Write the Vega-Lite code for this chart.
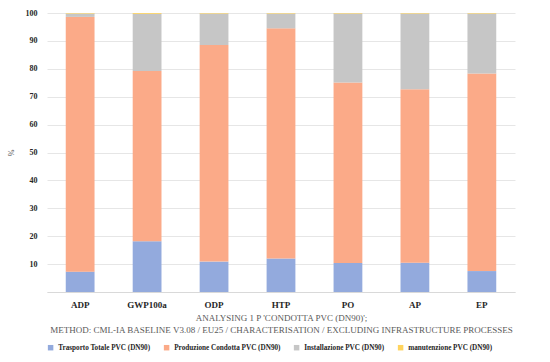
{
  "$schema": "https://vega.github.io/schema/vega-lite/v6.json",
  "width": 468,
  "height": 279,
  "padding": {"left": 7, "top": 9, "right": 20, "bottom": 5},
  "background": "white",
  "data": {"values": [
    {"cat": "ADP", "s": "Trasporto Totale PVC (DN90)", "o": 1, "v": 7.3},
    {"cat": "ADP", "s": "Produzione Condotta PVC (DN90)", "o": 2, "v": 91.3},
    {"cat": "ADP", "s": "Installazione PVC (DN90)", "o": 3, "v": 1.2},
    {"cat": "ADP", "s": "manutenzione PVC (DN90)", "o": 4, "v": 0.2},
    {"cat": "GWP100a", "s": "Trasporto Totale PVC (DN90)", "o": 1, "v": 18.2},
    {"cat": "GWP100a", "s": "Produzione Condotta PVC (DN90)", "o": 2, "v": 61.0},
    {"cat": "GWP100a", "s": "Installazione PVC (DN90)", "o": 3, "v": 20.5},
    {"cat": "GWP100a", "s": "manutenzione PVC (DN90)", "o": 4, "v": 0.3},
    {"cat": "ODP", "s": "Trasporto Totale PVC (DN90)", "o": 1, "v": 10.9},
    {"cat": "ODP", "s": "Produzione Condotta PVC (DN90)", "o": 2, "v": 77.6},
    {"cat": "ODP", "s": "Installazione PVC (DN90)", "o": 3, "v": 11.3},
    {"cat": "ODP", "s": "manutenzione PVC (DN90)", "o": 4, "v": 0.2},
    {"cat": "HTP", "s": "Trasporto Totale PVC (DN90)", "o": 1, "v": 12.0},
    {"cat": "HTP", "s": "Produzione Condotta PVC (DN90)", "o": 2, "v": 82.5},
    {"cat": "HTP", "s": "Installazione PVC (DN90)", "o": 3, "v": 5.3},
    {"cat": "HTP", "s": "manutenzione PVC (DN90)", "o": 4, "v": 0.2},
    {"cat": "PO", "s": "Trasporto Totale PVC (DN90)", "o": 1, "v": 10.4},
    {"cat": "PO", "s": "Produzione Condotta PVC (DN90)", "o": 2, "v": 64.7},
    {"cat": "PO", "s": "Installazione PVC (DN90)", "o": 3, "v": 24.7},
    {"cat": "PO", "s": "manutenzione PVC (DN90)", "o": 4, "v": 0.2},
    {"cat": "AP", "s": "Trasporto Totale PVC (DN90)", "o": 1, "v": 10.5},
    {"cat": "AP", "s": "Produzione Condotta PVC (DN90)", "o": 2, "v": 62.2},
    {"cat": "AP", "s": "Installazione PVC (DN90)", "o": 3, "v": 27.1},
    {"cat": "AP", "s": "manutenzione PVC (DN90)", "o": 4, "v": 0.2},
    {"cat": "EP", "s": "Trasporto Totale PVC (DN90)", "o": 1, "v": 7.5},
    {"cat": "EP", "s": "Produzione Condotta PVC (DN90)", "o": 2, "v": 70.8},
    {"cat": "EP", "s": "Installazione PVC (DN90)", "o": 3, "v": 21.5},
    {"cat": "EP", "s": "manutenzione PVC (DN90)", "o": 4, "v": 0.2}
  ]},
  "mark": {"type": "bar"},
  "encoding": {
    "x": {
      "field": "cat", "type": "nominal", "sort": null,
      "scale": {"paddingInner": 0.57, "paddingOuter": 0.28},
      "axis": {
        "title": ["ANALYSING 1 P 'CONDOTTA PVC (DN90)';", "METHOD: CML-IA BASELINE V3.08 / EU25 / CHARACTERISATION / EXCLUDING INFRASTRUCTURE PROCESSES"],
        "titleFont": "Liberation Serif", "titleFontSize": 9, "titleFontWeight": "normal", "titleColor": "#595959", "titleLineHeight": 12, "titlePadding": 4,
        "labelAngle": 0, "labelFont": "Liberation Serif", "labelFontSize": 9, "labelFontWeight": "bold", "labelColor": "#262626", "labelPadding": 8,
        "ticks": false, "domainColor": "#d9d9d9", "grid": false
      }
    },
    "y": {
      "field": "v", "type": "quantitative", "stack": "zero",
      "scale": {"domain": [0, 100], "nice": false},
      "axis": {
        "title": "%", "titleFont": "Liberation Serif", "titleFontSize": 8, "titleFontWeight": "normal", "titleColor": "#595959", "titlePadding": 10,
        "values": [0, 10, 20, 30, 40, 50, 60, 70, 80, 90, 100],
        "labelExpr": "datum.value == 0 ? '' : datum.label",
        "labelFont": "Liberation Serif", "labelFontSize": 8, "labelFontWeight": "bold", "labelColor": "#262626", "labelPadding": 10,
        "ticks": false, "domain": false, "gridColor": "#e6e6e6"
      }
    },
    "color": {
      "field": "s", "type": "nominal",
      "sort": ["Trasporto Totale PVC (DN90)", "Produzione Condotta PVC (DN90)", "Installazione PVC (DN90)", "manutenzione PVC (DN90)"],
      "scale": {"domain": ["Trasporto Totale PVC (DN90)", "Produzione Condotta PVC (DN90)", "Installazione PVC (DN90)", "manutenzione PVC (DN90)"], "range": ["#93aadd", "#fbaa88", "#c6c6c6", "#ffd45e"]},
      "legend": {
        "orient": "bottom", "direction": "horizontal", "title": null,
        "symbolType": "square", "symbolSize": 30, "symbolStrokeWidth": 0,
        "labelFont": "Liberation Serif", "labelFontSize": 7.2, "labelFontWeight": "bold", "labelColor": "#262626",
        "columnPadding": 12, "offset": 10
      }
    },
    "order": {"field": "o", "type": "quantitative"}
  },
  "config": {"view": {"stroke": null}}
}
